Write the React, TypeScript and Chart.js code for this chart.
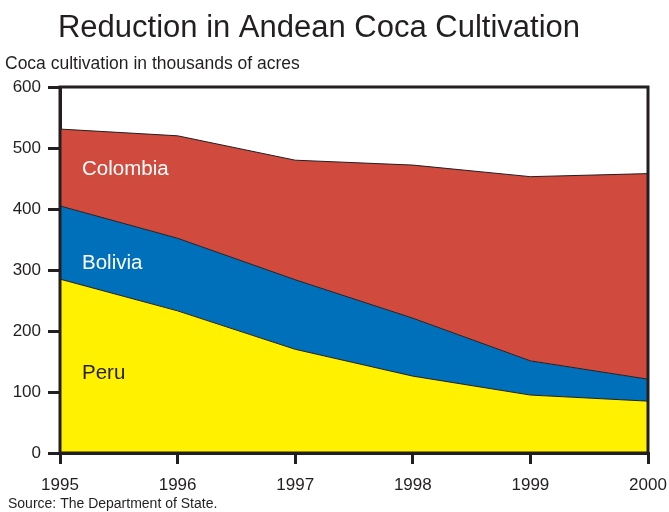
import React, { useEffect, useRef } from "react";
import { Chart, registerables } from "chart.js";

Chart.register(...registerables);

const years = ["1995", "1996", "1997", "1998", "1999", "2000"];
const peru = [285, 233, 170, 126, 95, 85];
const bolivia = [120, 119, 114, 95, 56, 36];
const colombia = [126, 168, 196, 251, 302, 337];
const yTicks = [0, 100, 200, 300, 400, 500, 600];

const FONT = "'Liberation Sans', Arial, Helvetica, sans-serif";
const INK = "#231F20";

const textPlugin = {
  id: "texts",
  afterDraw(chart: any) {
    const { ctx, chartArea } = chart;
    ctx.save();
    // frame
    ctx.strokeStyle = INK;
    ctx.lineWidth = 3;
    ctx.strokeRect(chartArea.left, chartArea.top, chartArea.right - chartArea.left, chartArea.bottom - chartArea.top);
    ctx.fillStyle = INK;
    ctx.textBaseline = "alphabetic";
    ctx.textAlign = "center";
    ctx.font = `31px ${FONT}`;
    ctx.fillText("Reduction in Andean Coca Cultivation", 319, 37);
    ctx.textAlign = "left";
    ctx.font = `17.5px ${FONT}`;
    ctx.fillText("Coca cultivation in thousands of acres", 5, 69);
    ctx.font = `14px ${FONT}`;
    ctx.fillText("Source: The Department of State.", 8, 508);
    ctx.font = `20.5px ${FONT}`;
    const lx = chartArea.left + 22;
    ctx.fillStyle = "#ffffff";
    ctx.fillText("Colombia", lx, 175);
    ctx.fillText("Bolivia", lx, 269);
    ctx.fillStyle = INK;
    ctx.fillText("Peru", lx, 379);
    ctx.restore();
  },
};

export default function App() {
  const ref = useRef<HTMLCanvasElement | null>(null);
  useEffect(() => {
    if (!ref.current) return;
    const chart = new Chart(ref.current, {
      type: "line",
      data: {
        labels: years,
        datasets: [
          { label: "Peru", data: peru, backgroundColor: "#FFF100", borderColor: INK, borderWidth: 1, fill: "origin", pointRadius: 0, tension: 0 },
          { label: "Bolivia", data: bolivia, backgroundColor: "#0070BA", borderColor: INK, borderWidth: 1, fill: "-1", pointRadius: 0, tension: 0 },
          { label: "Colombia", data: colombia, backgroundColor: "#D14A3E", borderColor: INK, borderWidth: 1, fill: "-1", pointRadius: 0, tension: 0 },
        ],
      },
      options: {
        responsive: false,
        animation: false,
        layout: { padding: { top: 87, right: 21, left: 0, bottom: 0 } },
        plugins: { legend: { display: false }, tooltip: { enabled: false }, title: { display: false } },
        scales: {
          x: {
            offset: false,
            grid: { display: true, drawOnChartArea: false, drawTicks: true, tickLength: 11, lineWidth: 3, color: INK },
            border: { display: true, width: 3, color: INK },
            ticks: { color: INK, font: { size: 17, family: FONT }, padding: 11, maxRotation: 0, autoSkip: false },
            afterFit: (s: any) => { s.height = 59; s.paddingLeft = 0; s.paddingRight = 0; },
          },
          y: {
            stacked: true,
            min: 0,
            max: 600,
            afterBuildTicks: (s: any) => { s.ticks = yTicks.map((v) => ({ value: v })); },
            grid: { display: true, drawOnChartArea: false, drawTicks: true, tickLength: 12, lineWidth: 3, color: INK },
            border: { display: true, width: 3, color: INK },
            ticks: { color: INK, font: { size: 17, family: FONT }, padding: 7 },
            afterFit: (s: any) => { s.width = 60; s.paddingTop = 0; s.paddingBottom = 0; },
          },
        },
      },
      plugins: [textPlugin],
    });
    return () => chart.destroy();
  }, []);
  return (
    <div style={{ position: "absolute", left: 0, top: 0, width: 669, height: 512, background: "#fff" }}>
      <canvas ref={ref} width={669} height={512} style={{ display: "block" }} />
    </div>
  );
}
